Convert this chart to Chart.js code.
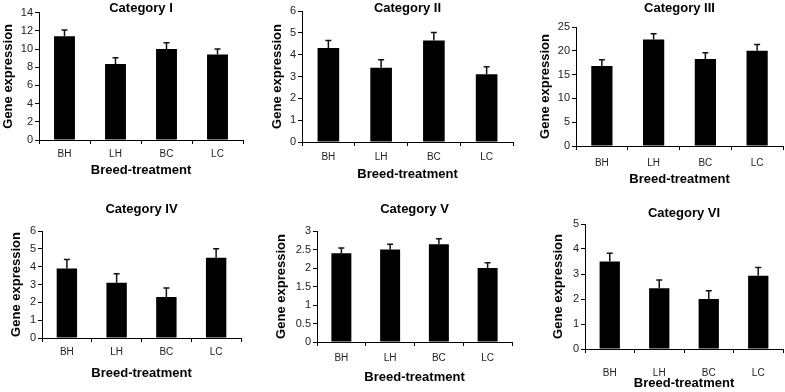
<!DOCTYPE html>
<html>
<head>
<meta charset="utf-8">
<script src="https://cdn.jsdelivr.net/npm/chart.js@4.4.1/dist/chart.umd.min.js"></script>
<style>
    html, body { margin: 0; padding: 0; background: #fff; }
    body { width: 785px; height: 392px; position: relative; overflow: hidden; }
    canvas { position: absolute; }
</style>
</head>
<body>
<canvas id="c1"></canvas>
<canvas id="c2"></canvas>
<canvas id="c3"></canvas>
<canvas id="c4"></canvas>
<canvas id="c5"></canvas>
<canvas id="c6"></canvas>
<script>
// Données
const categories = ['BH', 'LH', 'BC', 'LC'];
const panelTitles = ['Category I', 'Category II', 'Category III', 'Category IV', 'Category V', 'Category VI'];
const yAxisTitle = 'Gene expression';
const xAxisTitle = 'Breed-treatment';

const meansI = [11.4, 8.35, 10.0, 9.4];
const errorsI = [0.7, 0.7, 0.7, 0.6];
const meansII = [4.3, 3.4, 4.65, 3.1];
const errorsII = [0.35, 0.37, 0.36, 0.35];
const meansIII = [16.8, 22.4, 18.3, 20.0];
const errorsIII = [1.3, 1.2, 1.3, 1.3];
const meansIV = [3.9, 3.1, 2.3, 4.5];
const errorsIV = [0.5, 0.5, 0.5, 0.5];
const meansV = [2.4, 2.5, 2.64, 2.0];
const errorsV = [0.14, 0.14, 0.15, 0.14];
const meansVI = [3.5, 2.43, 2.0, 2.93];
const errorsVI = [0.33, 0.33, 0.33, 0.33];

const yMax = [14, 6, 25, 6, 3, 5];
const yStep = [2, 1, 5, 1, 0.5, 1];

// Position de chaque panneau (en pixels de la page)
const layouts = [
    { left: 0,   top: 0,   yTitleX: 8,     axisLeft: 39,  axisRight: 243, titleY: 8.5,   plotTop: 12.7, plotBottom: 140, xLabelY: 154, xTitleY: 170 },
    { left: 262, top: 0,   yTitleX: 277,   axisLeft: 302, axisRight: 513, titleY: 8.5,   plotTop: 11,   plotBottom: 142, xLabelY: 157, xTitleY: 174 },
    { left: 524, top: 0,   yTitleX: 545.5, axisLeft: 576, axisRight: 783, titleY: 8.5,   plotTop: 27,   plotBottom: 146, xLabelY: 163, xTitleY: 179 },
    { left: 0,   top: 190, yTitleX: 16,    axisLeft: 42,  axisRight: 241, titleY: 209,   plotTop: 231,  plotBottom: 338, xLabelY: 352, xTitleY: 373 },
    { left: 262, top: 190, yTitleX: 281,   axisLeft: 317, axisRight: 512, titleY: 209,   plotTop: 231,  plotBottom: 342, xLabelY: 358, xTitleY: 377 },
    { left: 524, top: 190, yTitleX: 558.5, axisLeft: 585, axisRight: 783, titleY: 213.5, plotTop: 224,  plotBottom: 349, xLabelY: 373, xTitleY: 383 }
];

const FONT = "'Liberation Sans', Arial, sans-serif";

/**
 * Barres d'erreur (moitié haute seulement)
 */
const errorBars = {
    id: 'errorBars',
    afterDatasetsDraw(chart) {
        const ctx = chart.ctx;
        const yScale = chart.scales.y;
        const dataset = chart.data.datasets[0];
        const meta = chart.getDatasetMeta(0);
        ctx.save();
        ctx.strokeStyle = '#111';
        ctx.lineWidth = 1.5;
        meta.data.forEach((bar, i) => {
            const top = yScale.getPixelForValue(dataset.data[i] + dataset.errors[i]);
            ctx.beginPath();
            ctx.moveTo(bar.x, bar.y);
            ctx.lineTo(bar.x, top);
            ctx.moveTo(bar.x - 3, top);
            ctx.lineTo(bar.x + 3, top);
            ctx.stroke();
        });
        ctx.restore();
    }
};

function makePanel(id, title, means, errors, max, step, box) {
    const canvas = document.getElementById(id);
    const L = box.left, T = box.top;
    const W = box.axisRight + 2 - L;
    const H = Math.ceil(box.xTitleY + 8 - T);
    canvas.width = W;
    canvas.height = H;
    canvas.style.left = L + 'px';
    canvas.style.top = T + 'px';
    canvas.style.width = W + 'px';
    canvas.style.height = H + 'px';

    const padTop = box.titleY - 6.5 - T;
    const titlePadBottom = box.plotTop - T - padTop - 13;
    const yAxisWidth = box.axisLeft - L;
    const xAxisHeight = T + H - box.plotBottom;

    return new Chart(canvas.getContext('2d'), {
        type: 'bar',
        data: {
            labels: categories,
            datasets: [{
                data: means,
                errors: errors,
                backgroundColor: '#000',
                borderWidth: 0,
                barPercentage: 0.41,
                categoryPercentage: 1
            }]
        },
        options: {
            responsive: false,
            animation: false,
            devicePixelRatio: 1,
            layout: { padding: { top: padTop, right: 2, bottom: 0, left: 0 } },
            plugins: {
                legend: { display: false },
                tooltip: { enabled: false },
                title: {
                    display: true,
                    text: title,
                    fullSize: false,
                    color: '#000',
                    font: { family: FONT, size: 13, weight: 'bold', lineHeight: 1 },
                    padding: { top: 0, bottom: titlePadBottom }
                }
            },
            scales: {
                x: {
                    grid: { display: true, drawOnChartArea: false, drawTicks: true, tickLength: 4, color: '#000' },
                    border: { display: true, color: '#000', width: 1 },
                    ticks: {
                        color: '#222',
                        padding: box.xLabelY - box.plotBottom - 10,
                        font: { family: FONT, size: 10 }
                    },
                    title: {
                        display: true,
                        text: xAxisTitle,
                        color: '#000',
                        font: { family: FONT, size: 13, weight: 'bold', lineHeight: 1 },
                        padding: { top: 0, bottom: T + H - box.xTitleY - 6.5 }
                    },
                    afterFit: scale => { scale.height = xAxisHeight; }
                },
                y: {
                    min: 0,
                    max: max,
                    grid: { display: true, drawOnChartArea: false, drawTicks: true, tickLength: 4, color: '#000' },
                    border: { display: true, color: '#000', width: 1 },
                    ticks: {
                        stepSize: step,
                        color: '#222',
                        padding: 2,
                        font: { family: FONT, size: 11 },
                        callback: value => String(Number(value.toFixed(2)))
                    },
                    title: {
                        display: true,
                        text: yAxisTitle,
                        color: '#000',
                        font: { family: FONT, size: 13, weight: 'bold', lineHeight: 1 },
                        padding: { top: box.yTitleX - L - 6.5, bottom: 0 }
                    },
                    afterFit: scale => { scale.width = yAxisWidth; }
                }
            }
        },
        plugins: [errorBars]
    });
}

makePanel('c1', panelTitles[0], meansI, errorsI, yMax[0], yStep[0], layouts[0]);
makePanel('c2', panelTitles[1], meansII, errorsII, yMax[1], yStep[1], layouts[1]);
makePanel('c3', panelTitles[2], meansIII, errorsIII, yMax[2], yStep[2], layouts[2]);
makePanel('c4', panelTitles[3], meansIV, errorsIV, yMax[3], yStep[3], layouts[3]);
makePanel('c5', panelTitles[4], meansV, errorsV, yMax[4], yStep[4], layouts[4]);
makePanel('c6', panelTitles[5], meansVI, errorsVI, yMax[5], yStep[5], layouts[5]);
</script>
</body>
</html>
